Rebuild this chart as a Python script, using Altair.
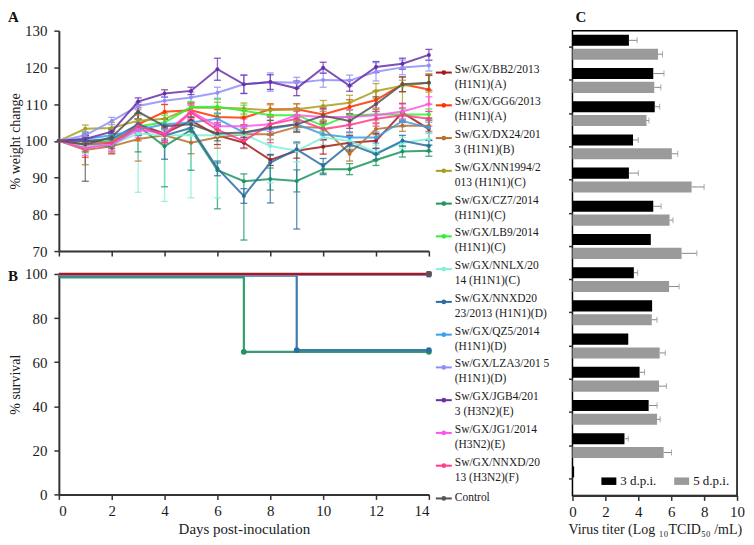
import altair as alt
import pandas as pd

FONT = "Liberation Serif"

# ---------------- data ----------------
strains = ["BB2", "GG6", "DX24", "NN1994", "CZ7", "LB9", "NNLX", "NNXD2023",
           "QZ5", "LZA3", "JGB4", "JG1", "NNXD13", "Control"]
legend_l1 = ["Sw/GX/BB2/2013", "Sw/GX/GG6/2013", "Sw/GX/DX24/201", "Sw/GX/NN1994/2",
             "Sw/GX/CZ7/2014", "Sw/GX/LB9/2014", "Sw/GX/NNLX/20", "Sw/GX/NNXD20",
             "Sw/GX/QZ5/2014", "Sw/GX/LZA3/201 5", "Sw/GX/JGB4/201", "Sw/GX/JG1/2014",
             "Sw/GX/NNXD/20", "Control"]
legend_l2 = ["(H1N1)(A)", "(H1N1)(A)", "3 (H1N1)(B)", "013 (H1N1)(C)", "(H1N1)(C)",
             "(H1N1)(C)", "14 (H1N1)(C)", "23/2013 (H1N1)(D)", "(H1N1)(D)", "(H1N1)(D)",
             "3 (H3N2)(E)", "(H3N2)(E)", "13 (H3N2)(F)", ""]
colors = ["#a31c1c", "#ff3300", "#b8702e", "#a6a021", "#1e9460", "#33ee33", "#80f0d8",
          "#2b6ca3", "#3aa0e8", "#8f8ff7", "#6a30a8", "#ff55ee", "#ff3d8b", "#555555"]
point_sizes = [16, 16, 16, 16, 40, 16, 16, 36, 16, 16, 16, 16, 16, 16]

days = list(range(15))

weight = [
    [100, 100, 99.5, 104.5, 102, 105.5, 101.5, 99.5, 94.8, 97.3, 98.4, 99.5, 100, 107.7, 103.2],
    [100, 98, 99.5, 104.5, 107.9, 108.3, 106.5, 106.3, 108.6, 108.6, 107.2, 109.2, 111.1, 115.4, 114],
    [100, 97.5, 98.5, 100.5, 101.5, 99.5, 101, 101.8, 101.8, 103.8, 103.6, 96.5, 103.2, 104.1, 104.1],
    [100, 103.3, 103.5, 105.5, 106, 109, 109, 108.8, 108.3, 108.6, 109.5, 110.4, 113.6, 115, 115.8],
    [100, 99, 98.5, 104, 98.5, 103, 92, 89, 89.6, 89.1, 92.3, 92.3, 94.8, 97.1, 97.3],
    [100, 99, 100, 104, 105, 109.2, 109.3, 108.2, 107, 107, 104.1, 107, 107.2, 107.2, 107.2],
    [100, 98.5, 99, 102, 101.5, 101.5, 101.5, 101.8, 98.6, 97.3, 100.9, 100, 96.8, 99.5, 100.5],
    [100, 100, 100.5, 104.5, 101.5, 103.5, 92.5, 85, 94.1, 97.7, 93.2, 99.1, 96.4, 100, 98.6],
    [100, 100.5, 101.5, 103, 104.5, 105, 106, 102.3, 103.2, 104.5, 101.8, 100.9, 100.9, 105.4, 103.6],
    [100, 101.5, 105.4, 109.5, 110.9, 111.8, 113.1, 115.4, 116, 115.8, 116.6, 116.4, 118.8, 120, 120.5],
    [100, 100.5, 102.5, 110.7, 112.9, 113.6, 119.5, 115.4, 116, 114.3, 119.9, 115, 120.1, 121, 123.4],
    [100, 98, 99, 103, 102, 108, 104, 104, 104.5, 107, 106.5, 106.5, 107, 108, 110],
    [100, 99, 99.5, 104, 101.5, 107.7, 103, 100, 104.5, 106, 103.2, 104.3, 106, 107, 106],
    [100, 99, 101, 107.9, 104, 104.5, 102, 102.3, 103.6, 104.5, 106.8, 105.4, 110, 115.4, 115.8],
]
err_lo = [
    [0, 1.5, 1.5, 3, 2, 2, 2.5, 1.5, 1.5, 2, 2, 2, 2, 2.5, 3],
    [0, 2.5, 3, 4.5, 2, 2, 2, 2, 1.5, 1.5, 2, 2, 2.5, 2, 4],
    [0, 4, 2, 6, 2, 3, 3, 1.5, 1.5, 1.5, 2, 2, 1.5, 1.5, 1.5],
    [0, 1, 1.5, 1.5, 1.5, 1.5, 1.5, 1.5, 1.5, 1.5, 1.5, 2, 2, 8, 2.5],
    [0, 2, 1.5, 7, 11, 11, 10.5, 16, 3, 3, 1.5, 1.5, 1.5, 1.5, 1.5],
    [0, 1.5, 1.5, 2, 2, 1.5, 2, 1.5, 1.5, 1.5, 1.5, 1.5, 1.5, 1.5, 1.5],
    [0, 2, 2, 16, 18, 17, 17, 4, 10, 3, 2, 2, 2, 1.5, 1.5],
    [0, 1.5, 1.5, 3, 6.5, 2, 2, 2, 11, 21.7, 2, 2, 1.5, 1.5, 1.5],
    [0, 1.5, 1.5, 1.5, 1.5, 1.5, 1.5, 1.5, 1.5, 1.5, 1.5, 1.5, 1.5, 1.5, 1.5],
    [0, 1, 1, 1, 1, 1.5, 1.5, 2.5, 2.5, 1.5, 2, 1.5, 2.5, 2, 1.5],
    [0, 1, 1, 1, 1, 1, 3, 2.5, 2, 2, 1.5, 1.5, 1.5, 1.5, 1.5],
    [0, 2, 2, 2, 2, 2, 2, 2, 2, 2, 2, 2, 2, 2, 2],
    [0, 2, 2, 2, 2, 2, 2, 2, 5, 2, 3, 2, 2, 2, 2],
    [0, 10, 2, 2, 2, 2, 2, 2, 2, 2, 2, 2, 2, 2, 2],
]
err_hi = [
    [0, 1.5, 1.5, 3, 2, 2, 2.5, 1.5, 1.5, 2, 2, 2, 2, 2.5, 3],
    [0, 2.5, 3, 4.5, 2, 2, 2, 2, 1.5, 1.5, 2, 2, 2.5, 2, 4],
    [0, 2, 2, 2, 2, 2, 2, 1.5, 1.5, 1.5, 2, 2, 1.5, 1.5, 1.5],
    [0, 1, 1.5, 1.5, 1.5, 1.5, 1.5, 1.5, 1.5, 1.5, 1.5, 2, 2, 1.5, 2.5],
    [0, 2, 1.5, 2, 2, 2, 2, 2, 3, 3, 1.5, 1.5, 1.5, 1.5, 1.5],
    [0, 1.5, 1.5, 2, 2, 1.5, 2, 1.5, 1.5, 1.5, 1.5, 1.5, 1.5, 1.5, 1.5],
    [0, 2, 2, 2, 2, 2, 2, 2, 2, 2, 2, 2, 2, 1.5, 1.5],
    [0, 1.5, 1.5, 3, 2, 2, 2, 2, 2, 2, 2, 2, 1.5, 1.5, 1.5],
    [0, 1.5, 1.5, 1.5, 1.5, 1.5, 1.5, 1.5, 1.5, 1.5, 1.5, 1.5, 1.5, 1.5, 1.5],
    [0, 1, 1, 1, 1, 1.5, 1.5, 2.5, 2.5, 1.5, 2, 1.5, 2.5, 2, 1.5],
    [0, 1, 1, 1, 1, 1, 3, 2.5, 2, 2, 1.5, 1.5, 1.5, 1.5, 1.5],
    [0, 2, 2, 2, 2, 2, 2, 2, 2, 2, 2, 2, 2, 2, 2],
    [0, 2, 2, 2, 2, 2, 2, 2, 2, 2, 2, 2, 2, 2, 2],
    [0, 2, 2, 2, 2, 2, 2, 2, 2, 2, 2, 2, 2, 2, 2],
]

# survival (panel B): day of each vertex and % survival
surv_days = [[0, 14], [0, 14], [0, 14], [0, 14], [0, 7, 14], [0, 14], [0, 14],
             [0, 9, 14], [0, 14], [0, 14], [0, 14], [0, 14], [0, 14], [0, 14]]
surv_vals = [[100, 100], [100, 100], [100, 100], [100, 100], [98.5, 64.7, 64.7],
             [100, 100], [100, 100], [99.3, 65.5, 65.5], [100, 100], [99.6, 99.6],
             [100, 100], [100, 100], [100, 100], [100, 100]]

# virus titer (panel C)
dpis = ["3 d.p.i.", "5 d.p.i."]
titer3 = [3.43, 4.91, 5.0, 3.68, 3.43, 4.91, 4.76, 3.73, 4.84, 3.39, 4.08, 4.63, 3.16, 0.1]
titer3_err = [0.5, 0.65, 0.3, 0.32, 0.57, 0.48, 0, 0.23, 0, 0, 0.3, 0.51, 0.23, 0]
titer5 = [5.2, 4.97, 4.5, 6.04, 7.24, 5.9, 6.63, 5.87, 4.82, 5.3, 5.26, 5.14, 5.54, 0]
titer5_err = [0.27, 0.4, 0.15, 0.36, 0.76, 0.21, 0.93, 0.61, 0.32, 0.34, 0.45, 0.19, 0.48, 0]
titer_ticks = [0, 2, 4, 6, 8, 10]

# ---------------- tables ----------------
rowsA = []
for i, s in enumerate(strains):
    for d in days:
        v = weight[i][d]
        rowsA.append(dict(strain=s, day=d, v=v, lo=v - err_lo[i][d], hi=v + err_hi[i][d]))
dfA = pd.DataFrame(rowsA)

rowsB = []
for i, s in enumerate(strains):
    for d, v in zip(surv_days[i], surv_vals[i]):
        rowsB.append(dict(strain=s, day=d, s=v))
dfB = pd.DataFrame(rowsB)

rowsC = []
for i, s in enumerate(strains):
    rowsC.append(dict(strain=s, dpi=dpis[0], val=titer3[i], err=titer3_err[i], hi=titer3[i] + titer3_err[i]))
    rowsC.append(dict(strain=s, dpi=dpis[1], val=titer5[i], err=titer5_err[i], hi=titer5[i] + titer5_err[i]))
dfC = pd.DataFrame(rowsC)

dfL = pd.DataFrame(dict(strain=strains, idx=list(range(len(strains))), l1=legend_l1, l2=legend_l2))

# ---------------- panel A ----------------
color = alt.Color("strain:N", scale=alt.Scale(domain=strains, range=colors), legend=None)
size = alt.Size("strain:N", scale=alt.Scale(domain=strains, range=point_sizes), legend=None)
xscale = alt.Scale(domain=[0, 14], nice=False, zero=False)
axA_x = alt.Axis(values=list(range(0, 15, 2)), labels=False, title=None)
yscaleA = alt.Scale(domain=[70, 130], nice=False, zero=False)
axA_y = alt.Axis(values=[70, 80, 90, 100, 110, 120, 130], title="% weight change",
                 titlePadding=2, titleFontSize=14)

baseA = alt.Chart(dfA).encode(x=alt.X("day:Q", scale=xscale, axis=axA_x), color=color)
errA = baseA.mark_rule(strokeWidth=1.3, opacity=0.75).encode(
    y=alt.Y("lo:Q", scale=yscaleA, axis=axA_y), y2="hi:Q")
capLo = baseA.transform_filter("datum.hi > datum.lo").mark_tick(
    orient="horizontal", size=7, thickness=1.3, opacity=0.8).encode(
    y=alt.Y("lo:Q", scale=yscaleA, axis=axA_y))
capHi = baseA.transform_filter("datum.hi > datum.lo").mark_tick(
    orient="horizontal", size=7, thickness=1.3, opacity=0.8).encode(
    y=alt.Y("hi:Q", scale=yscaleA, axis=axA_y))
lineA = baseA.mark_line(strokeWidth=2, opacity=0.85).encode(
    y=alt.Y("v:Q", scale=yscaleA, axis=axA_y))
ptsA = baseA.mark_point(filled=True, opacity=1).encode(
    y=alt.Y("v:Q", scale=yscaleA, axis=axA_y), size=size)
labA = alt.Chart(pd.DataFrame({"t": ["A"]})).mark_text(
    font=FONT, fontSize=15, fontWeight="bold", align="left", baseline="top", color="#111"
).encode(text="t:N", x=alt.value(-51), y=alt.value(-21))

A = alt.layer(errA, capLo, capHi, lineA, ptsA, labA).properties(width=371, height=221)

# ---------------- panel B ----------------
axB_x = alt.Axis(values=list(range(0, 15, 2)), title="Days post-inoculation", labelPadding=4,
                 titlePadding=3)
yscaleB = alt.Scale(domain=[0, 100], nice=False, zero=False)
axB_y = alt.Axis(values=[0, 20, 40, 60, 80, 100], title="% survival", titlePadding=2,
                 titleFontSize=14)
baseB = alt.Chart(dfB).encode(
    x=alt.X("day:Q", scale=xscale, axis=axB_x),
    y=alt.Y("s:Q", scale=yscaleB, axis=axB_y),
    color=color)
lineB = baseB.mark_line(interpolate="step-after", strokeWidth=2.2, opacity=0.9)
lineBB2 = baseB.transform_filter(alt.datum.strain == "BB2").mark_line(
    interpolate="step-after", strokeWidth=2.6)
ptsB = baseB.transform_filter("datum.day > 0").mark_point(filled=True, opacity=1, size=34)
labB = alt.Chart(pd.DataFrame({"t": ["B"]})).mark_text(
    font=FONT, fontSize=15, fontWeight="bold", align="left", baseline="middle", color="#111"
).encode(text="t:N", x=alt.value(-51), y=alt.value(2))
B = alt.layer(lineB, lineBB2, ptsB, labB).properties(width=371, height=221)

AB = alt.vconcat(A, B, spacing=8)

# ---------------- legend column ----------------
yL = alt.Y("idx:Q", scale=alt.Scale(domain=[-1.279, 13.546], reverse=True, nice=False, zero=False),
           axis=None)
baseL = alt.Chart(dfL).encode(y=yL)
legRule = baseL.mark_rule(strokeWidth=2).encode(x=alt.value(0), x2=alt.value(16), color=color)
legPt = baseL.mark_point(filled=True, opacity=1, size=22).encode(x=alt.value(8), color=color)
legT1 = baseL.transform_filter("datum.l2 != ''").mark_text(
    font=FONT, fontSize=11.5, align="left", baseline="middle", dy=-3, color="#1a1a1a"
).encode(x=alt.value(19), text="l1:N")
legT2 = baseL.transform_filter("datum.l2 != ''").mark_text(
    font=FONT, fontSize=11.5, align="left", baseline="middle", dy=12, color="#1a1a1a"
).encode(x=alt.value(19), text="l2:N")
legT0 = baseL.transform_filter("datum.l2 == ''").mark_text(
    font=FONT, fontSize=11.5, align="left", baseline="middle", color="#1a1a1a"
).encode(x=alt.value(19), text="l1:N")
LEG = alt.layer(legRule, legPt, legT1, legT2, legT0).properties(
    width=131, height=487, view=alt.ViewBackground(stroke=None, fill="white"))

# ---------------- panel C ----------------
yC = alt.Y("strain:N", sort=strains,
           scale=alt.Scale(paddingInner=0.25, paddingOuter=0.125),
           axis=alt.Axis(labels=False, title=None, domain=False, ticks=True, tickSize=4,
                         bandPosition=0.5))
yOffC = alt.YOffset("dpi:N", sort=dpis, scale=alt.Scale(paddingInner=0.2, paddingOuter=0))
xscaleC = alt.Scale(domain=[0, 10], nice=False, zero=True)
axC = alt.Axis(values=titer_ticks, tickCount=6, labelOverlap=False, labelFlush=False,
               labelBound=False, labelPadding=4, titlePadding=3, titleFontSize=14,
               title="Virus titer (Log \u2081\u2080TCID\u2085\u2080 /mL)")
bars = alt.Chart(dfC).mark_bar().encode(
    x=alt.X("val:Q", scale=xscaleC, axis=axC), y=yC, yOffset=yOffC,
    color=alt.Color("dpi:N", scale=alt.Scale(domain=dpis, range=["#000000", "#9a9a9a"]),
                    legend=alt.Legend(orient="none", legendX=29, legendY=444, direction="horizontal",
                                      title=None, symbolType="M-1,-0.5H1V0.5H-1Z", symbolSize=225,
                                      symbolStrokeWidth=0, labelFont=FONT, labelFontSize=13,
                                      labelColor="#111", columnPadding=17, labelOffset=4)))
errCr = alt.Chart(dfC).transform_filter("datum.err > 0").mark_rule(
    color="#8a8a8a", strokeWidth=1).encode(
    x=alt.X("val:Q", scale=xscaleC, axis=axC), x2="hi:Q", y=yC, yOffset=yOffC)
errCc = alt.Chart(dfC).transform_filter("datum.err > 0").mark_tick(
    color="#8a8a8a", size=6, thickness=1).encode(
    x=alt.X("hi:Q", scale=xscaleC, axis=axC), y=yC, yOffset=yOffC)
labC = alt.Chart(pd.DataFrame({"t": ["C"]})).mark_text(
    font=FONT, fontSize=15, fontWeight="bold", align="left", baseline="top", color="#111"
).encode(text="t:N", x=alt.value(3), y=alt.value(-21))
C = alt.layer(bars, errCr, errCc, labC).properties(
    width=165, height=466, view=alt.ViewBackground(stroke="#000000", strokeWidth=1.5))

chart = alt.hconcat(AB, LEG, C, spacing=0).resolve_scale(
    color="independent", size="independent"
).properties(padding=0).configure(font=FONT).configure_view(stroke=None).configure_axis(
    grid=False, domainColor="#333333", domainWidth=2, tickColor="#333333", tickWidth=1.5,
    tickSize=5, labelFont=FONT, labelFontSize=15, labelColor="#1a1a1a", labelPadding=7,
    titleFont=FONT, titleFontSize=15, titleFontWeight="normal", titleColor="#1a1a1a",
    titlePadding=4)

chart.save("out.html", embed_options={"renderer": "svg", "actions": False})
